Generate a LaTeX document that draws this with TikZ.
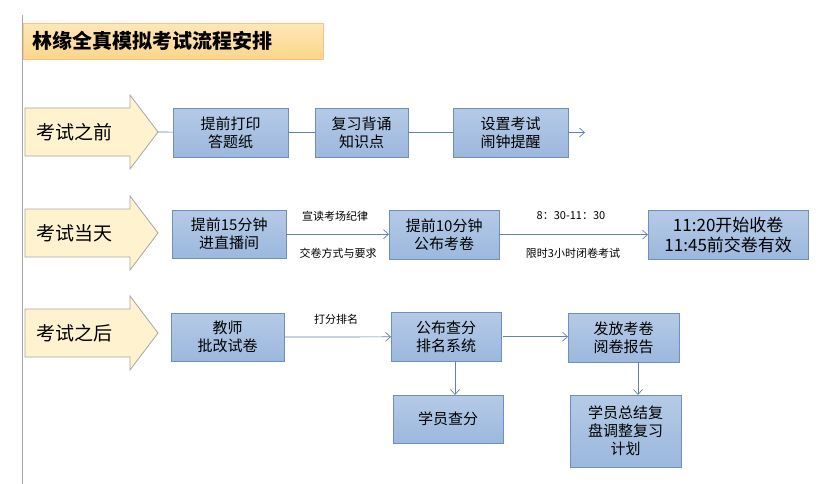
\documentclass[tikz,border=0pt]{standalone}
\usepackage{fontspec}
\setmainfont{Noto Sans CJK SC}
\usetikzlibrary{arrows.meta}
\definecolor{bfill}{HTML}{9CB8DE}
\definecolor{bdraw}{HTML}{6F8FBF}
\definecolor{afill}{HTML}{FFF2CF}
\definecolor{tfill}{HTML}{FCD68A}
\begin{document}
\begin{tikzpicture}[x=1pt,y=-1pt,
 box/.style={draw=bdraw,top color=bfill!75,bottom color=bfill,minimum width=#1,inner sep=0pt,align=center,font=\fontsize{15}{18}\selectfont,anchor=north west},
 box/.default=115pt,
 lab/.style={font=\fontsize{11}{13}\selectfont,inner sep=1pt},
 con/.style={draw=bdraw!90!black,line width=0.7pt},
 arr/.style={con,-{Straight Barb[length=5pt,width=9pt]}},
 big/.style={draw=gray!70,fill=afill,line width=0.8pt}]
\useasboundingbox (0,0) rectangle (821,484);
\draw[gray!70,line width=0.8pt] (22,15) -- (22,484);
\node[draw=orange!50,top color=tfill!60,bottom color=tfill,anchor=north west,minimum width=300pt,minimum height=36pt,inner sep=0pt] (title) at (23,23) {};
\node[anchor=west,font=\fontsize{20}{23}\selectfont\bfseries] (tt) at (29,41) {林缘全真模拟考试流程安排};
% big arrows
\foreach \n/\y/\t in {a1/132/考试之前,a2/233/考试当天,a3/333/考试之后}{
 \draw[big] (25,\y-24) -- (130,\y-24) -- (130,\y-37) -- (158,\y) -- (130,\y+37) -- (130,\y+24) -- (25,\y+24) -- cycle;
 \node[anchor=west,font=\fontsize{19}{22}\selectfont] at (33,\y) {\t};
 \coordinate (\n) at (158,\y);
}
% row 1
\node[box,minimum height=49pt] (r11) at (173,108) {提前打印\\答题纸};
\node[box=93pt,minimum height=49pt] (r12) at (315,108) {复习背诵\\知识点};
\node[box,minimum height=49pt] (r13) at (453,108) {设置考试\\闹钟提醒};
\coordinate (e1) at (585,132.5);
\draw[con] (a1) -- (r11);
\draw[con] (r11) -- (r12);
\draw[con] (r12) -- (r13);
\draw[arr] (r13) -- (e1);
% row 2
\node[box=114pt,minimum height=48pt] (r21) at (172,210) {提前15分钟\\进直播间};
\node[box=110pt,minimum height=49pt] (r22) at (389,210) {提前10分钟\\公布考卷};
\node[box=160pt,minimum height=49pt,font=\fontsize{17}{20}\selectfont] (r23) at (648,210) {11:20开始收卷\\11:45前交卷有效};
\draw[arr] (r21.east) -- (r22.west|-r21.east);
\draw[arr] (r22) -- (r23);
\node[lab] (l1) at (335,216) {宣读考场纪律};
\node[lab] (l2) at (338,253) {交卷方式与要求};
\node[lab] (l3) at (571,216) {8：30-11：30};
\node[lab] (l4) at (573,253) {限时3小时闭卷考试};
% row 3
\node[box=113pt,minimum height=48pt] (r31) at (171,313) {教师\\批改试卷};
\node[box=110pt,minimum height=49pt] (r32) at (391,312) {公布查分\\排名系统};
\node[box=111pt,minimum height=49pt] (r33) at (568,313) {发放考卷\\阅卷报告};
\node[box=110pt,minimum height=48pt] (r34) at (393,395) {学员查分};
\node[box=111pt,minimum height=72pt] (r35) at (570,395) {学员总结复\\盘调整复习\\计划};
\node[lab] (l5) at (336,319) {打分排名};
\draw[arr] (r31) -- (r32);
\draw[arr] (r32.east) ++(2,0) -- (r33.west|-r32.east);
\draw[arr] (r32.south-|455,0) -- (r34.north-|455,0);
\draw[arr] (r33.south-|638,0) -- (r35.north-|638,0);
\end{tikzpicture}
\end{document}
